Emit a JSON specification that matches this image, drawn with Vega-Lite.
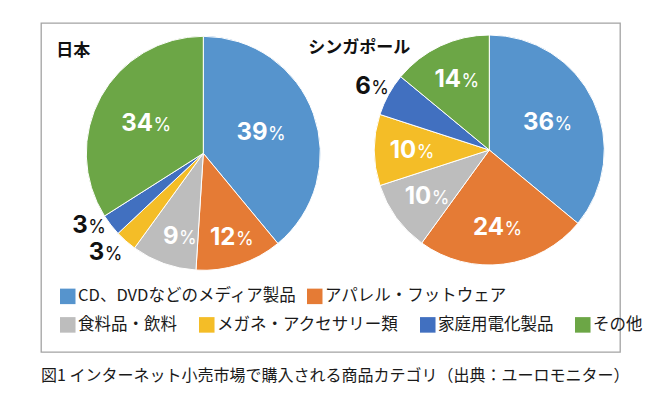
{
  "$schema": "https://vega.github.io/schema/vega-lite/v6.json",
  "width": 579,
  "height": 329,
  "autosize": {"type": "none"},
  "padding": {"left": 41, "top": 23, "right": 40, "bottom": 46},
  "background": "white",
  "config": {"view": {"stroke": "#a3a3a3", "strokeWidth": 1.3}},
  "title": {"text": "図1 インターネット小売市場で購入される商品カテゴリ（出典：ユーロモニター）", "orient": "bottom", "anchor": "start", "offset": 16, "font": "Noto Sans CJK JP", "fontSize": 16, "fontWeight": "normal", "color": "#1a1a1a"},
  "datasets": {
    "shares": [
      {"country": "日本", "category": "CD、DVDなどのメディア製品", "value": 39, "rank": 1},
      {"country": "日本", "category": "アパレル・フットウェア", "value": 12, "rank": 2},
      {"country": "日本", "category": "食料品・飲料", "value": 9, "rank": 3},
      {"country": "日本", "category": "メガネ・アクセサリー類", "value": 3, "rank": 4},
      {"country": "日本", "category": "家庭用電化製品", "value": 3, "rank": 5},
      {"country": "日本", "category": "その他", "value": 34, "rank": 6},
      {"country": "シンガポール", "category": "CD、DVDなどのメディア製品", "value": 36, "rank": 1},
      {"country": "シンガポール", "category": "アパレル・フットウェア", "value": 24, "rank": 2},
      {"country": "シンガポール", "category": "食料品・飲料", "value": 10, "rank": 3},
      {"country": "シンガポール", "category": "メガネ・アクセサリー類", "value": 10, "rank": 4},
      {"country": "シンガポール", "category": "家庭用電化製品", "value": 6, "rank": 5},
      {"country": "シンガポール", "category": "その他", "value": 14, "rank": 6}
    ],
    "titles": [{"country": "日本"}, {"country": "シンガポール"}]
  },
  "data": {"name": "shares"},
  "encoding": {
    "x": {"field": "country", "type": "nominal", "scale": {"type": "point", "domain": ["日本", "シンガポール"], "range": [162.3, 448.3], "padding": 0}, "axis": null},
    "y": {"field": "country", "type": "nominal", "scale": {"type": "point", "domain": ["日本", "シンガポール"], "range": [130.3, 127], "padding": 0}, "axis": null}
  },
  "layer": [
    {
      "transform": [{"filter": {"field": "country", "equal": "日本"}}],
      "mark": {"type": "arc", "outerRadius": 117, "opacity": 0},
      "encoding": {
        "theta": {"field": "value", "type": "quantitative", "stack": true},
        "order": {"field": "rank", "type": "quantitative"},
        "stroke": {"field": "category", "type": "nominal",
          "scale": {"domain": ["食料品・飲料", "メガネ・アクセサリー類", "家庭用電化製品", "その他", "CD、DVDなどのメディア製品", "アパレル・フットウェア"], "range": ["#bdbdbd", "#f4bd27", "#4170c0", "#6ca646", "#5694cd", "#e57b35"]},
          "legend": {"title": null, "orient": "none", "legendX": 18.5, "legendY": 293.5, "direction": "horizontal", "values": ["食料品・飲料", "メガネ・アクセサリー類", "家庭用電化製品", "その他"], "symbolType": "square", "symbolSize": 60, "symbolStrokeWidth": 7.8, "symbolOpacity": 1, "labelFont": "Noto Sans CJK JP", "labelFontSize": 16.5, "labelColor": "#1a1a1a", "labelOffset": 2, "columnPadding": 9, "labelLimit": 400, "padding": 0}}
      }
    },
    {
      "transform": [{"filter": {"field": "country", "equal": "日本"}}],
      "mark": {"type": "arc", "outerRadius": 117, "stroke": "white", "strokeWidth": 1},
      "encoding": {
        "theta": {"field": "value", "type": "quantitative", "stack": true},
        "order": {"field": "rank", "type": "quantitative"},
        "fill": {"field": "category", "type": "nominal",
          "scale": {"domain": ["CD、DVDなどのメディア製品", "アパレル・フットウェア", "食料品・飲料", "メガネ・アクセサリー類", "家庭用電化製品", "その他"], "range": ["#5694cd", "#e57b35", "#bdbdbd", "#f4bd27", "#4170c0", "#6ca646"]},
          "legend": {"title": null, "orient": "none", "legendX": 18.5, "legendY": 265, "direction": "horizontal", "values": ["CD、DVDなどのメディア製品", "アパレル・フットウェア"], "symbolType": "square", "symbolSize": 240, "symbolStrokeWidth": 0, "symbolOpacity": 1, "labelFont": "Noto Sans CJK JP", "labelFontSize": 16.5, "labelColor": "#1a1a1a", "labelOffset": 2, "columnPadding": 9, "labelLimit": 400, "padding": 0}}
      }
    },
    {
      "transform": [{"filter": {"field": "country", "equal": "シンガポール"}}],
      "mark": {"type": "arc", "outerRadius": 115, "stroke": "white", "strokeWidth": 1},
      "encoding": {
        "theta": {"field": "value", "type": "quantitative", "stack": true},
        "order": {"field": "rank", "type": "quantitative"},
        "fill": {"field": "category", "type": "nominal"}
      }
    },
    {
      "transform": [{"filter": {"field": "country", "equal": "日本"}}],
      "mark": {"type": "text", "radius": 63, "align": "right", "baseline": "alphabetic", "dx": 5, "dy": 8, "font": "Inter", "fontSize": 24, "fontWeight": "bold", "fill": "white"},
      "encoding": {
        "theta": {"field": "value", "type": "quantitative", "stack": true},
        "order": {"field": "rank", "type": "quantitative"},
        "text": {"condition": {"test": "datum.value >= 30", "field": "value", "type": "quantitative"}, "value": ""}
      }
    },
    {
      "transform": [{"filter": {"field": "country", "equal": "日本"}}],
      "mark": {"type": "text", "radius": 63, "align": "left", "baseline": "alphabetic", "dx": 5.5, "dy": 8, "font": "Inter", "fontSize": 18, "fontWeight": "normal", "fill": "white"},
      "encoding": {
        "theta": {"field": "value", "type": "quantitative", "stack": true},
        "order": {"field": "rank", "type": "quantitative"},
        "text": {"condition": {"test": "datum.value >= 30", "value": "%"}, "value": ""}
      }
    },
    {
      "transform": [{"filter": {"field": "country", "equal": "日本"}}],
      "mark": {"type": "text", "radius": 88, "align": "right", "baseline": "alphabetic", "dx": 5, "dy": 8, "font": "Inter", "fontSize": 24, "fontWeight": "bold", "fill": "white"},
      "encoding": {
        "theta": {"field": "value", "type": "quantitative", "stack": true},
        "order": {"field": "rank", "type": "quantitative"},
        "text": {"condition": {"test": "datum.value >= 5 && datum.value < 30", "field": "value", "type": "quantitative"}, "value": ""}
      }
    },
    {
      "transform": [{"filter": {"field": "country", "equal": "日本"}}],
      "mark": {"type": "text", "radius": 88, "align": "left", "baseline": "alphabetic", "dx": 5.5, "dy": 8, "font": "Inter", "fontSize": 18, "fontWeight": "normal", "fill": "white"},
      "encoding": {
        "theta": {"field": "value", "type": "quantitative", "stack": true},
        "order": {"field": "rank", "type": "quantitative"},
        "text": {"condition": {"test": "datum.value >= 5 && datum.value < 30", "value": "%"}, "value": ""}
      }
    },
    {
      "transform": [{"filter": {"field": "country", "equal": "日本"}}],
      "mark": {"type": "text", "radius": 136, "align": "right", "baseline": "alphabetic", "dx": -8, "dy": -3.3, "font": "Inter", "fontSize": 24, "fontWeight": "bold", "fill": "#111111"},
      "encoding": {
        "theta": {"field": "value", "type": "quantitative", "stack": true},
        "order": {"field": "rank", "type": "quantitative"},
        "text": {"condition": {"test": "datum.rank == 5", "field": "value", "type": "quantitative"}, "value": ""}
      }
    },
    {
      "transform": [{"filter": {"field": "country", "equal": "日本"}}],
      "mark": {"type": "text", "radius": 136, "align": "left", "baseline": "alphabetic", "dx": -7.5, "dy": -3.3, "font": "Inter", "fontSize": 18, "fontWeight": "normal", "fill": "#111111"},
      "encoding": {
        "theta": {"field": "value", "type": "quantitative", "stack": true},
        "order": {"field": "rank", "type": "quantitative"},
        "text": {"condition": {"test": "datum.rank == 5", "value": "%"}, "value": ""}
      }
    },
    {
      "transform": [{"filter": {"field": "country", "equal": "日本"}}],
      "mark": {"type": "text", "radius": 136, "align": "right", "baseline": "alphabetic", "dx": -9, "dy": 4.7, "font": "Inter", "fontSize": 24, "fontWeight": "bold", "fill": "#111111"},
      "encoding": {
        "theta": {"field": "value", "type": "quantitative", "stack": true},
        "order": {"field": "rank", "type": "quantitative"},
        "text": {"condition": {"test": "datum.rank == 4", "field": "value", "type": "quantitative"}, "value": ""}
      }
    },
    {
      "transform": [{"filter": {"field": "country", "equal": "日本"}}],
      "mark": {"type": "text", "radius": 136, "align": "left", "baseline": "alphabetic", "dx": -8.5, "dy": 4.7, "font": "Inter", "fontSize": 18, "fontWeight": "normal", "fill": "#111111"},
      "encoding": {
        "theta": {"field": "value", "type": "quantitative", "stack": true},
        "order": {"field": "rank", "type": "quantitative"},
        "text": {"condition": {"test": "datum.rank == 4", "value": "%"}, "value": ""}
      }
    },
    {
      "transform": [{"filter": {"field": "country", "equal": "シンガポール"}}],
      "mark": {"type": "text", "radius": 66, "align": "right", "baseline": "alphabetic", "dx": 5, "dy": 8, "font": "Inter", "fontSize": 24, "fontWeight": "bold", "fill": "white"},
      "encoding": {
        "theta": {"field": "value", "type": "quantitative", "stack": true},
        "order": {"field": "rank", "type": "quantitative"},
        "text": {"condition": {"test": "datum.value >= 30", "field": "value", "type": "quantitative"}, "value": ""}
      }
    },
    {
      "transform": [{"filter": {"field": "country", "equal": "シンガポール"}}],
      "mark": {"type": "text", "radius": 66, "align": "left", "baseline": "alphabetic", "dx": 5.5, "dy": 8, "font": "Inter", "fontSize": 18, "fontWeight": "normal", "fill": "white"},
      "encoding": {
        "theta": {"field": "value", "type": "quantitative", "stack": true},
        "order": {"field": "rank", "type": "quantitative"},
        "text": {"condition": {"test": "datum.value >= 30", "value": "%"}, "value": ""}
      }
    },
    {
      "transform": [{"filter": {"field": "country", "equal": "シンガポール"}}],
      "mark": {"type": "text", "radius": 78, "align": "right", "baseline": "alphabetic", "dx": 5, "dy": 8, "font": "Inter", "fontSize": 24, "fontWeight": "bold", "fill": "white"},
      "encoding": {
        "theta": {"field": "value", "type": "quantitative", "stack": true},
        "order": {"field": "rank", "type": "quantitative"},
        "text": {"condition": {"test": "datum.value >= 8 && datum.value < 30", "field": "value", "type": "quantitative"}, "value": ""}
      }
    },
    {
      "transform": [{"filter": {"field": "country", "equal": "シンガポール"}}],
      "mark": {"type": "text", "radius": 78, "align": "left", "baseline": "alphabetic", "dx": 5.5, "dy": 8, "font": "Inter", "fontSize": 18, "fontWeight": "normal", "fill": "white"},
      "encoding": {
        "theta": {"field": "value", "type": "quantitative", "stack": true},
        "order": {"field": "rank", "type": "quantitative"},
        "text": {"condition": {"test": "datum.value >= 8 && datum.value < 30", "value": "%"}, "value": ""}
      }
    },
    {
      "transform": [{"filter": {"field": "country", "equal": "シンガポール"}}],
      "mark": {"type": "text", "radius": 133, "align": "right", "baseline": "alphabetic", "dx": -2, "dy": 8, "font": "Inter", "fontSize": 24, "fontWeight": "bold", "fill": "#111111"},
      "encoding": {
        "theta": {"field": "value", "type": "quantitative", "stack": true},
        "order": {"field": "rank", "type": "quantitative"},
        "text": {"condition": {"test": "datum.value < 8", "field": "value", "type": "quantitative"}, "value": ""}
      }
    },
    {
      "transform": [{"filter": {"field": "country", "equal": "シンガポール"}}],
      "mark": {"type": "text", "radius": 133, "align": "left", "baseline": "alphabetic", "dx": -1.5, "dy": 8, "font": "Inter", "fontSize": 18, "fontWeight": "normal", "fill": "#111111"},
      "encoding": {
        "theta": {"field": "value", "type": "quantitative", "stack": true},
        "order": {"field": "rank", "type": "quantitative"},
        "text": {"condition": {"test": "datum.value < 8", "value": "%"}, "value": ""}
      }
    },
    {
      "data": {"name": "titles"},
      "mark": {"type": "text", "align": "center", "baseline": "middle", "dx": -130, "dy": -102, "font": "Noto Sans CJK JP", "fontSize": 17, "fontWeight": "bold", "fill": "#111111"},
      "encoding": {"text": {"field": "country", "type": "nominal"}}
    }
  ]
}
